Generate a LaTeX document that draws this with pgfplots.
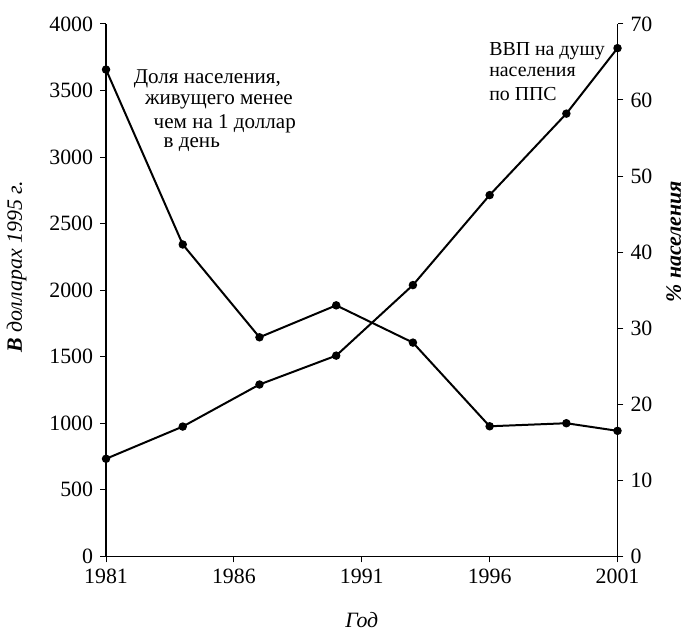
\documentclass[border=0pt]{standalone}
\usepackage{fontspec}
\setmainfont{Liberation Serif}
\usepackage{pgfplots}
\pgfplotsset{compat=1.18}
\begin{document}
\begin{tikzpicture}[font=\fontsize{11}{13}\selectfont]
\begin{axis}[
  name=ax,
  scale only axis, width=256.5bp, height=267bp,
  xmin=1981, xmax=2001, ymin=0, ymax=4000,
  axis x line*=bottom, axis y line*=left,
  xtick={1981,1986,1991,1996,2001},
  ytick={0,500,...,4000},
  tick align=outside, major tick length=3bp,
  tick style={black, line width=0.5bp},
  axis line style={black, line width=0.7bp},
  /pgf/number format/assume math mode=true,
  /pgf/number format/1000 sep=,
  xlabel={\textit{Год}},
  xlabel style={at={(axis description cs:0.5,-0.119)}, anchor=center},
  ylabel={\textbf{\textit{В}} \textit{долларах 1995 г.}},
  ylabel style={at={(axis description cs:-0.175,0.544)}, anchor=center},
]
\addplot[black, line width=1bp, mark=*, mark size=1.6pt] coordinates {
  (1981,733) (1984,975) (1987,1291) (1990,1508) (1993,2038) (1996,2714) (1999,3326) (2001,3818)
};
\begin{scope}[every node/.style={anchor=west, inner sep=0pt, font=\fontsize{10.6}{12}\selectfont}]
\node at (axis cs:1982.07,3584) {Доля населения,};
\node at (axis cs:1982.51,3414) {живущего менее};
\node at (axis cs:1982.85,3247) {чем на 1 доллар};
\node at (axis cs:1983.24,3090) {в день};
\end{scope}
\begin{scope}[every node/.style={anchor=west, inner sep=0pt, font=\fontsize{10}{12}\selectfont}]
\node at (axis cs:1995.97,3796) {ВВП на душу};
\node at (axis cs:1995.97,3639) {населения};
\node at (axis cs:1995.97,3477) {по ППС};
\end{scope}
\end{axis}
\begin{axis}[
  scale only axis, width=256.5bp, height=267bp,
  xmin=1981, xmax=2001, ymin=0, ymax=70,
  axis x line=none, axis y line*=right,
  ytick={0,10,...,70},
  tick align=outside, major tick length=3bp,
  tick style={black, line width=0.5bp},
  axis line style={black, line width=0.7bp},
  /pgf/number format/assume math mode=true,
  ylabel={\textbf{\textit{\% населения}}},
  ylabel style={at={(axis description cs:1.11,0.591)}, anchor=center},
]
\addplot[black, line width=1bp, mark=*, mark size=1.6pt] coordinates {
  (1981,64.0) (1984,41.0) (1987,28.8) (1990,33.0) (1993,28.1) (1996,17.1) (1999,17.5) (2001,16.5)
};
\end{axis}
\path ([shift={(-52.15bp,-37.25bp)}]ax.south west) rectangle ([shift={(35.85bp,12bp)}]ax.north east);
\end{tikzpicture}
\end{document}
